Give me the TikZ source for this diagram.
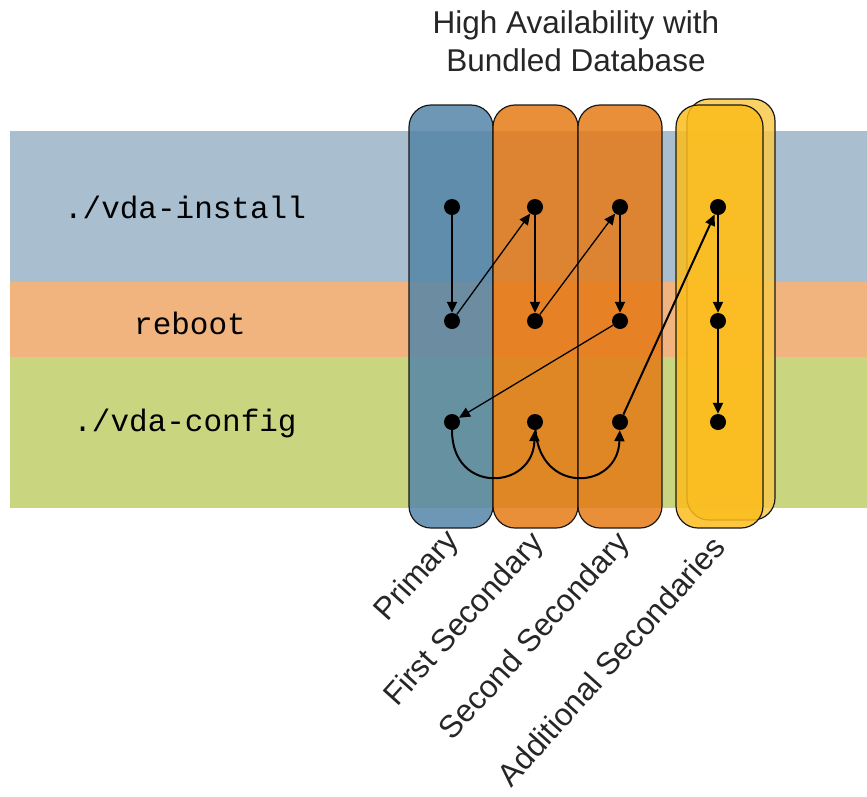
\documentclass[tikz,border=0pt]{standalone}
\usepackage{fontspec}
\setmainfont{Liberation Sans}
\setmonofont{Liberation Mono}
\usetikzlibrary{arrows.meta}
\definecolor{bandblue}{HTML}{A9BFD0}
\definecolor{bandorange}{HTML}{F2B47E}
\definecolor{bandgreen}{HTML}{C9D67F}
\definecolor{colblue}{HTML}{5585A8}
\definecolor{colorange}{HTML}{E57A16}
\definecolor{colyellow}{HTML}{FCBC1C}
\definecolor{yellowback}{HTML}{F8C94A}

\begin{document}
\begin{tikzpicture}[x=1pt,y=-1pt,
  col/.style={draw=black!90,line width=1.2pt,rounded corners=22pt,fill opacity=.85},
  dot/.style={circle,fill=black,inner sep=0pt,minimum size=16pt},
  flow/.style={line width=2pt,-{Triangle[length=11pt,width=10pt]}},
  jump/.style={line width=1.3pt,-{Triangle[length=11pt,width=10pt]}},
  cmd/.style={font=\fontsize{31}{31}\ttfamily},
  colname/.style={font=\fontsize{31.5}{31.5}\selectfont,text=black!85,rotate=48,anchor=north east,inner sep=0pt}]
  \useasboundingbox (0,0) rectangle (867,796);
  % bands
  \fill[bandblue] (10,131) rectangle (867,282);
  \fill[bandorange] (10,282) rectangle (867,357);
  \fill[bandgreen] (10,357) rectangle (867,508);
  \node[cmd] (install) at (185,207) {./vda-install};
  \node[cmd] (reboot) at (190,323) {reboot};
  \node[cmd] (config) at (185,423) {./vda-config};
  % columns
  \draw[col,fill=yellowback] (687,99) rectangle (775,520);
  \draw[col,fill=colblue] (409,105) rectangle (493,528);
  \draw[col,fill=colorange] (493,105) rectangle (578,528);
  \draw[col,fill=colorange] (578,105) rectangle (662,528);
  \draw[col,fill=colyellow] (676,105) rectangle (763,528);
  \node[align=center,font=\fontsize{31.5}{38}\selectfont,text=black!85] (title) at (576,41)
    {High Availability with\\Bundled Database};
  % steps
  \foreach \n/\x in {p/452,f/535,s/620,a/718}
    \foreach \m/\y in {1/207,2/321,3/422}
      \node[dot] (\n\m) at (\x,\y) {};
  \foreach \n in {p,f,s,a}{\draw[flow] (\n1)--(\n2);}
  \draw[flow] (a2)--(a3);
  \draw[jump] (p2)--(f1);
  \draw[jump] (f2)--(s1);
  \draw[jump] (s2)--(p3);
  \draw[flow] (s3)--(a1);
  \draw[flow] (p3) .. controls (452,495) and (533,490) .. (f3);
  \draw[flow] (f3) .. controls (540,495) and (618,490) .. (s3);
  % column names
  \foreach \n/\x/\y/\t in {p/443/526/Primary,f/528/528/First Secondary,
      s/614/528/Second Secondary,a/710/533/Additional Secondaries}
    \node[colname] (name\n) at (\x,\y) {\t};
\end{tikzpicture}
\end{document}
